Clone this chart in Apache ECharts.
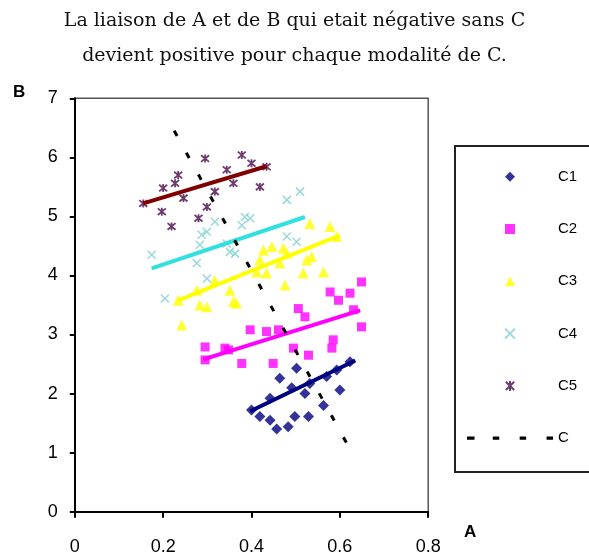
<!DOCTYPE html>
<html>
<head>
<meta charset="utf-8">
<script src="https://cdn.jsdelivr.net/npm/echarts@6/dist/echarts.min.js"></script>
<style>
html,body{margin:0;padding:0;background:#fff;}
#chart{width:589px;height:560px;}
</style>
</head>
<body>
<div id="chart"></div>
<script>
// ---- data ----
const titleLines = ["La liaison de A et de B qui etait négative sans C", "devient positive pour chaque modalité de C."];
const xTicks = [0, 0.2, 0.4, 0.6, 0.8];
const yTicks = [0, 1, 2, 3, 4, 5, 6, 7];
const legendNames = ["C1", "C2", "C3", "C4", "C5", "C"];

const c1 = [[0.400,1.72],[0.419,1.61],[0.442,1.92],[0.442,1.55],[0.457,1.40],[0.464,2.26],[0.483,1.44],[0.491,2.10],[0.498,1.61],[0.502,2.43],[0.521,2.00],[0.529,1.61],[0.532,2.17],[0.563,1.80],[0.570,2.29],[0.593,2.40],[0.600,2.06],[0.623,2.54]];
const c2 = [[0.295,2.79],[0.295,2.57],[0.340,2.77],[0.348,2.74],[0.378,2.51],[0.397,3.08],[0.434,3.05],[0.449,2.51],[0.461,3.08],[0.495,2.77],[0.506,3.44],[0.521,3.30],[0.529,2.65],[0.578,3.72],[0.585,2.91],[0.582,2.77],[0.597,3.58],[0.623,3.70],[0.631,3.42],[0.649,3.89],[0.649,3.13]];
const c3 = [[0.242,3.16],[0.234,3.58],[0.283,3.50],[0.299,3.47],[0.276,3.75],[0.317,3.92],[0.351,3.75],[0.359,3.56],[0.366,3.53],[0.412,4.06],[0.434,4.04],[0.419,4.26],[0.427,4.43],[0.446,4.49],[0.464,4.21],[0.480,4.38],[0.472,4.46],[0.476,3.84],[0.525,4.26],[0.536,4.32],[0.517,4.04],[0.563,4.06],[0.532,4.88],[0.578,4.83],[0.593,4.66]];
const c4 = [[0.174,4.35],[0.204,3.61],[0.276,4.21],[0.299,3.95],[0.351,4.40],[0.287,4.69],[0.510,5.42],[0.480,5.28],[0.299,4.74],[0.317,4.91],[0.385,4.99],[0.283,4.52],[0.378,4.85],[0.344,4.54],[0.363,4.37],[0.480,4.66],[0.502,4.57],[0.397,4.97]];
const c5 = [[0.295,5.98],[0.378,6.04],[0.400,5.90],[0.434,5.84],[0.344,5.79],[0.234,5.70],[0.227,5.56],[0.200,5.48],[0.419,5.50],[0.359,5.56],[0.155,5.22],[0.246,5.31],[0.299,5.16],[0.197,5.08],[0.280,4.97],[0.219,4.83],[0.317,5.42]];

// trend lines (end points)
const trend1 = [[0.397,1.70],[0.635,2.56]];
const trend2 = [[0.291,2.58],[0.646,3.41]];
const trend3 = [[0.234,3.58],[0.600,4.68]];
const trend4 = [[0.174,4.12],[0.521,4.99]];
const trend5 = [[0.155,5.22],[0.434,5.85]];
// overall relation without C
const overallC = [[0.225,6.45],[0.620,1.10]];

// ---- chart ----
const chart = echarts.init(document.getElementById('chart'), null, {renderer:'canvas'});
const sans = 'Liberation Sans, Arial, sans-serif';
const diamondPath = 'path://M5,0 L10,5 L5,10 L0,5 Z';
const squarePath = 'path://M0,0 L10,0 L10,10 L0,10 Z';
const trianglePath = 'path://M5,0 L10,10 L0,10 Z';
const xPath = 'path://M0,0 L10,10 M10,0 L0,10';
const starPath = 'path://M0,0 L10,10 M10,0 L0,10 M5,-1 L5,11';
const dashIcon = 'path://M1,0h7v3h-7z M25,0h6v3h-6z M50,0h6v3h-6z M75,0h6v3h-6z';
const legendIcons = {C1:diamondPath, C2:squarePath, C3:trianglePath, C4:xPath, C5:starPath, C:dashIcon};

function scatter(name, data, symbol, size, itemStyle){
  return {name, type:'scatter', data, symbol, symbolSize:size, itemStyle, z:2, silent:true};
}
function trend(name, data, color){
  return {name, type:'line', data, symbol:'none', lineStyle:{color, width:4}, z:3, silent:true};
}

const legendData = legendNames.map(n => ({name:n, icon:legendIcons[n]}));

const option = {
  backgroundColor:'#fff',
  animation:false,
  title:{
    text: titleLines.join('\n'),
    left:'center', top:4, padding:0,
    textStyle:{fontFamily:'DejaVu Serif, serif', fontWeight:'normal', fontSize:19, lineHeight:35, color:'#111'}
  },
  grid:{left:74.8, right:160.8, top:98.3, bottom:48.3, show:true, borderColor:'#555', borderWidth:1.5, backgroundColor:'#fff'},
  xAxis:{
    type:'value', min:xTicks[0], max:xTicks[xTicks.length-1], interval:0.2,
    axisLine:{lineStyle:{color:'#000', width:2}},
    axisTick:{show:true, length:6, lineStyle:{color:'#000', width:2}},
    axisLabel:{fontFamily:sans, fontSize:18, color:'#000', margin:26, formatter:v=>String(+v.toFixed(1))},
    splitLine:{show:false}
  },
  yAxis:{
    type:'value', min:yTicks[0], max:yTicks[yTicks.length-1], interval:1,
    axisLine:{show:true, lineStyle:{color:'#000', width:2}},
    axisTick:{show:true, length:5, lineStyle:{color:'#000', width:2}},
    axisLabel:{fontFamily:sans, fontSize:18, color:'#000', margin:17},
    splitLine:{show:false}
  },
  legend:{
    orient:'vertical', left:467, top:168.7, padding:0, itemWidth:86, itemHeight:10, itemGap:36.3,
    data: legendData,
    textStyle:{fontFamily:sans, fontSize:15, color:'#000', lineHeight:16},
    selectedMode:false
  },
  graphic:[
    {type:'rect', shape:{x:455, y:146, width:200, height:326}, style:{fill:'none', stroke:'#222', lineWidth:2}, z:-1},
    {type:'text', left:13, top:84, style:{text:'B', font:'bold 17px Liberation Sans, Arial, sans-serif', fill:'#000'}},
    {type:'text', left:464, top:524, style:{text:'A', font:'bold 17px Liberation Sans, Arial, sans-serif', fill:'#000'}}
  ],
  series:[
    scatter('C1', c1, 'diamond', 11, {color:'#000080'}),
    scatter('C2', c2, 'rect', 9, {color:'#FF00FF'}),
    scatter('C3', c3, 'triangle', 11, {color:'#FFFF00'}),
    scatter('C4', c4, xPath, 8, {color:'rgba(0,0,0,0)', borderColor:'#7FD0D0', borderWidth:1.5}),
    scatter('C5', c5, starPath, 8, {color:'rgba(0,0,0,0)', borderColor:'#4A0A4A', borderWidth:1.8}),
    trend('T1', trend1, '#000080'),
    trend('T2', trend2, '#FF00FF'),
    trend('T3', trend3, '#FFFF00'),
    trend('T4', trend4, '#33E0E0'),
    trend('T5', trend5, '#800000'),
    {name:'C', type:'line', data:overallC, symbol:'none', z:4, silent:true,
     itemStyle:{color:'#000'},
     lineStyle:{color:'#000', width:3, type:[6,19]}}
  ]
};
chart.setOption(option);
</script>
</body>
</html>
